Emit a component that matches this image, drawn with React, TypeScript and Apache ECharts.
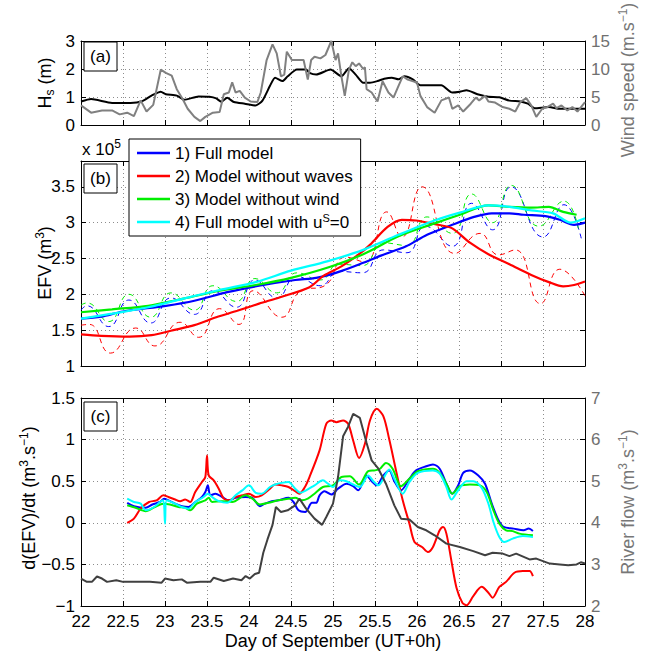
import React, { useEffect, useRef } from 'react';
import * as echarts from 'echarts';

const FONT = '"Liberation Sans", Arial, Helvetica, sans-serif';

// ---------- Panel (a) ----------
const hsData: [number, number][] = [
  [22.0, 0.84], [22.12, 0.93], [22.37, 0.79], [22.59, 0.79], [22.72, 0.84], [22.84, 1.05], [22.95, 1.19],
  [23.01, 1.1], [23.14, 1.05], [23.23, 0.9], [23.4, 1.02], [23.53, 1.01], [23.61, 0.95], [23.67, 0.83],
  [23.74, 0.97], [23.82, 0.82], [23.95, 0.76], [24.08, 0.7], [24.16, 0.87], [24.25, 1.4], [24.31, 1.69],
  [24.4, 1.57], [24.46, 1.74], [24.57, 1.98], [24.68, 1.98], [24.72, 1.86], [24.8, 1.8], [24.97, 1.98],
  [25.1, 1.74], [25.19, 2.03], [25.27, 1.8], [25.36, 1.51], [25.44, 1.51], [25.53, 1.57], [25.61, 1.65],
  [25.7, 1.69], [25.78, 1.63], [25.85, 1.74], [25.95, 1.63], [26.04, 1.42], [26.17, 1.42], [26.29, 1.42],
  [26.42, 1.16], [26.51, 1.19], [26.59, 1.24], [26.72, 1.1], [26.85, 1.01], [26.98, 0.99], [27.1, 0.87],
  [27.23, 0.84], [27.32, 0.76], [27.4, 0.6], [27.57, 0.64], [27.7, 0.58], [27.87, 0.58], [28.0, 0.58],
];
const windData: [number, number][] = [
  [22.0, 3.5], [22.12, 2.2], [22.25, 2.6], [22.37, 2.6], [22.46, 1.9], [22.55, 2.2], [22.63, 1.6], [22.71, 4.4],
  [22.78, 2.4], [22.86, 3.6], [22.95, 9.9], [23.01, 9.3], [23.08, 8.8], [23.14, 6.4], [23.21, 4.65], [23.27, 2.9],
  [23.35, 1.45], [23.42, 0.7], [23.48, 1.45], [23.57, 2.2], [23.65, 2.3], [23.7, 5.5], [23.76, 5.8], [23.8, 7.6],
  [23.84, 5.8], [23.89, 6.1], [23.95, 4.9], [24.02, 4.2], [24.1, 4.1], [24.14, 5.8], [24.21, 11.6], [24.28, 14.4],
  [24.33, 12.8], [24.38, 8.7], [24.42, 9.0], [24.45, 13.1], [24.51, 11.6], [24.57, 11.6], [24.65, 11.6],
  [24.7, 8.1], [24.74, 11.6], [24.78, 12.2], [24.85, 11.9], [24.91, 12.5], [24.98, 15.0], [25.03, 11.6],
  [25.06, 12.8], [25.1, 8.7], [25.14, 5.2], [25.19, 9.9], [25.23, 11.2], [25.27, 10.5], [25.31, 11.0],
  [25.36, 10.0], [25.38, 10.3], [25.4, 6.4], [25.46, 5.8], [25.53, 4.2], [25.59, 7.8], [25.66, 5.8],
  [25.72, 4.9], [25.78, 7.0], [25.83, 8.7], [25.89, 8.1], [26.0, 7.6], [26.04, 5.2], [26.12, 3.2], [26.21, 2.2],
  [26.29, 4.4], [26.38, 4.9], [26.42, 2.9], [26.49, 3.5], [26.55, 2.4], [26.64, 3.8], [26.7, 4.9], [26.74, 4.4],
  [26.81, 5.2], [26.85, 4.2], [26.93, 4.0], [27.02, 3.2], [27.1, 2.9], [27.17, 2.4], [27.23, 4.1], [27.3, 4.8],
  [27.36, 3.5], [27.42, 1.45], [27.49, 2.9], [27.55, 3.2], [27.62, 3.8], [27.66, 3.0], [27.72, 3.5],
  [27.79, 2.6], [27.85, 3.2], [27.91, 2.4], [28.0, 4.1],
];

// ---------- Panel (b): EFV (x 1e5 m3) ----------
const efvFull: [number, number][] = [
  [22.0, 1.66], [22.24, 1.69], [22.5, 1.76], [23.01, 1.84], [23.35, 1.91], [23.74, 2.03], [24.12, 2.12],
  [24.55, 2.2], [24.8, 2.23], [25.06, 2.31], [25.36, 2.44], [25.57, 2.54], [25.87, 2.67], [26.12, 2.83],
  [26.42, 2.97], [26.68, 3.08], [26.89, 3.13], [27.1, 3.13], [27.27, 3.11], [27.53, 3.09], [27.7, 3.04],
  [27.87, 2.97], [28.0, 3.0],
];
const efvNoWaves: [number, number][] = [
  [22.0, 1.44], [22.24, 1.42], [22.58, 1.41], [22.84, 1.43], [23.1, 1.5], [23.35, 1.57], [23.61, 1.68],
  [23.86, 1.77], [24.12, 1.87], [24.37, 1.96], [24.72, 2.1], [24.89, 2.26], [25.1, 2.39], [25.31, 2.56],
  [25.44, 2.69], [25.65, 2.94], [25.82, 3.04], [25.99, 3.03], [26.25, 2.97], [26.42, 2.92], [26.63, 2.72],
  [26.85, 2.56], [27.1, 2.42], [27.36, 2.27], [27.57, 2.17], [27.74, 2.11], [27.87, 2.13], [28.0, 2.18],
];
const efvNoWind: [number, number][] = [
  [22.0, 1.75], [22.37, 1.79], [22.8, 1.84], [23.22, 1.94], [23.65, 2.05], [24.08, 2.13], [24.5, 2.23],
  [24.93, 2.37], [25.36, 2.56], [25.78, 2.81], [26.21, 2.99], [26.51, 3.11], [26.85, 3.24], [27.1, 3.22],
  [27.36, 3.21], [27.57, 3.22], [27.74, 3.15], [27.9, 3.11],
];
const efvNoStokes: [number, number][] = [
  [22.0, 1.66], [22.37, 1.73], [22.8, 1.82], [23.22, 1.94], [23.65, 2.06], [24.08, 2.17], [24.5, 2.33],
  [24.93, 2.46], [25.36, 2.62], [25.78, 2.83], [26.21, 3.03], [26.51, 3.14], [26.85, 3.24], [27.1, 3.22],
  [27.36, 3.17], [27.62, 3.13], [27.83, 3.0], [28.0, 3.06],
];
const efvFullRaw: [number, number][] = [
  [22.0, 1.78], [22.07, 1.84], [22.33, 1.55], [22.57, 1.92], [22.83, 1.6], [23.07, 1.95], [23.35, 1.72],
  [23.57, 2.05], [23.85, 1.82], [24.07, 2.2], [24.33, 1.95], [24.57, 2.25], [24.85, 2.12], [25.07, 2.32],
  [25.35, 2.3], [25.6, 2.62], [25.88, 2.58], [26.1, 2.95], [26.42, 2.67], [26.65, 3.27], [26.9, 2.9],
  [27.12, 3.5], [27.5, 2.8], [27.75, 3.25], [27.96, 2.76],
];
const efvNoWavesRaw: [number, number][] = [
  [22.0, 1.57], [22.1, 1.58], [22.35, 1.18], [22.65, 1.53], [22.88, 1.28], [23.18, 1.61], [23.4, 1.4],
  [23.65, 1.8], [23.88, 1.58], [24.05, 2.05], [24.39, 1.68], [24.62, 2.05], [24.9, 2.12], [25.15, 2.52],
  [25.38, 2.45], [25.64, 3.15], [25.82, 2.8], [26.06, 3.5], [26.45, 2.57], [26.75, 2.85], [26.97, 2.55],
  [27.17, 2.62], [27.47, 1.87], [27.7, 2.35], [28.0, 1.98],
];
const efvNoWindRaw: [number, number][] = [
  [22.0, 1.85], [22.07, 1.88], [22.33, 1.62], [22.57, 2.0], [22.83, 1.68], [23.07, 2.02], [23.35, 1.78],
  [23.57, 2.12], [23.85, 1.9], [24.07, 2.22], [24.33, 2.02], [24.57, 2.3], [24.85, 2.2], [25.07, 2.42],
  [25.35, 2.4], [25.6, 2.72], [25.88, 2.68], [26.12, 3.08], [26.42, 2.85], [26.65, 3.4], [26.9, 3.0],
  [27.12, 3.52], [27.45, 2.95], [27.75, 3.3], [27.92, 2.92],
];

// ---------- Panel (c): d(EFV)/dt and river flow ----------
const dFull: [number, number][] = [
  [22.55, 0.24], [22.63, 0.2], [22.77, 0.18], [22.85, 0.22], [22.94, 0.25], [22.99, 0.29], [23.04, 0.27],
  [23.12, 0.23], [23.2, 0.2], [23.28, 0.19], [23.36, 0.25], [23.44, 0.31], [23.48, 0.37], [23.51, 0.45],
  [23.54, 0.33], [23.6, 0.35], [23.68, 0.31], [23.76, 0.27], [23.84, 0.3], [23.96, 0.31], [24.04, 0.3],
  [24.13, 0.2], [24.19, 0.23], [24.27, 0.26], [24.35, 0.27], [24.47, 0.3], [24.53, 0.25], [24.59, 0.15],
  [24.67, 0.13], [24.75, 0.24], [24.8, 0.24], [24.84, 0.33], [24.9, 0.38], [24.98, 0.34], [25.06, 0.41],
  [25.16, 0.47], [25.24, 0.44], [25.3, 0.39], [25.4, 0.57], [25.46, 0.5], [25.52, 0.45], [25.6, 0.57],
  [25.67, 0.63], [25.73, 0.5], [25.81, 0.39], [25.91, 0.53], [25.99, 0.63], [26.11, 0.68], [26.19, 0.7],
  [26.27, 0.65], [26.35, 0.47], [26.42, 0.35], [26.49, 0.45], [26.55, 0.6], [26.63, 0.63], [26.73, 0.57],
  [26.81, 0.47], [26.89, 0.23], [26.97, 0.03], [27.03, -0.05], [27.15, -0.07], [27.27, -0.09],
  [27.33, -0.07], [27.38, -0.1],
];
const dNoWaves: [number, number][] = [
  [22.55, 0.0], [22.63, 0.05], [22.71, 0.17], [22.81, 0.25], [22.9, 0.27], [22.98, 0.33], [23.04, 0.31],
  [23.12, 0.28], [23.18, 0.26], [23.24, 0.28], [23.3, 0.25], [23.36, 0.37], [23.44, 0.49], [23.48, 0.55],
  [23.5, 0.81], [23.52, 0.57], [23.58, 0.51], [23.64, 0.41], [23.7, 0.29], [23.76, 0.27], [23.84, 0.31],
  [23.92, 0.33], [24.0, 0.35], [24.08, 0.31], [24.15, 0.33], [24.25, 0.41], [24.31, 0.46], [24.39, 0.45],
  [24.47, 0.43], [24.55, 0.38], [24.6, 0.35], [24.66, 0.42], [24.72, 0.55], [24.84, 0.87], [24.92, 1.19],
  [24.98, 1.23], [25.04, 1.21], [25.12, 1.23], [25.18, 1.19], [25.24, 0.99], [25.31, 0.78], [25.38, 0.95],
  [25.44, 1.23], [25.52, 1.37], [25.6, 1.28], [25.67, 1.0], [25.75, 0.63], [25.83, 0.27], [25.91, -0.01],
  [25.97, -0.23], [26.06, -0.29], [26.13, -0.35], [26.19, -0.29], [26.27, -0.09], [26.31, -0.05],
  [26.35, -0.13], [26.41, -0.46], [26.47, -0.78], [26.54, -0.96], [26.59, -0.99], [26.67, -0.88],
  [26.77, -0.77], [26.85, -0.84], [26.9, -0.9], [26.98, -0.77], [27.06, -0.71], [27.16, -0.6],
  [27.26, -0.58], [27.34, -0.58], [27.38, -0.64],
];
const dNoWind: [number, number][] = [
  [22.55, 0.21], [22.65, 0.18], [22.77, 0.14], [22.88, 0.19], [22.98, 0.23], [23.06, 0.22], [23.16, 0.19],
  [23.24, 0.18], [23.3, 0.15], [23.38, 0.23], [23.48, 0.27], [23.52, 0.3], [23.56, 0.25], [23.68, 0.26],
  [23.8, 0.25], [23.96, 0.33], [24.04, 0.29], [24.13, 0.22], [24.23, 0.24], [24.35, 0.27], [24.47, 0.29],
  [24.55, 0.3], [24.63, 0.27], [24.7, 0.29], [24.78, 0.35], [24.88, 0.43], [25.0, 0.45], [25.1, 0.55],
  [25.2, 0.56], [25.31, 0.46], [25.42, 0.62], [25.5, 0.63], [25.56, 0.65], [25.63, 0.72], [25.71, 0.65],
  [25.81, 0.44], [25.91, 0.53], [26.01, 0.62], [26.19, 0.65], [26.27, 0.6], [26.35, 0.47], [26.42, 0.35],
  [26.51, 0.44], [26.63, 0.46], [26.75, 0.45], [26.83, 0.37], [26.91, 0.15], [26.98, -0.01], [27.06, -0.09],
  [27.14, -0.1], [27.22, -0.13], [27.38, -0.15],
];
const dNoStokes: [number, number][] = [
  [22.55, 0.29], [22.63, 0.25], [22.71, 0.23], [22.77, 0.15], [22.87, 0.19], [22.94, 0.25], [22.98, 0.27],
  [23.0, -0.01], [23.02, 0.27], [23.12, 0.23], [23.2, 0.19], [23.28, 0.17], [23.36, 0.25], [23.46, 0.31],
  [23.51, 0.35], [23.56, 0.31], [23.64, 0.26], [23.74, 0.24], [23.84, 0.33], [23.92, 0.39], [24.0, 0.45],
  [24.08, 0.36], [24.15, 0.35], [24.25, 0.43], [24.31, 0.46], [24.39, 0.48], [24.47, 0.49], [24.55, 0.41],
  [24.61, 0.36], [24.68, 0.39], [24.78, 0.45], [24.88, 0.51], [24.94, 0.47], [25.0, 0.43], [25.08, 0.51],
  [25.16, 0.5], [25.24, 0.46], [25.32, 0.43], [25.42, 0.57], [25.48, 0.5], [25.54, 0.45], [25.62, 0.57],
  [25.67, 0.64], [25.73, 0.53], [25.83, 0.35], [25.91, 0.49], [26.01, 0.6], [26.19, 0.63], [26.27, 0.59],
  [26.35, 0.43], [26.41, 0.28], [26.49, 0.39], [26.59, 0.5], [26.67, 0.5], [26.77, 0.42], [26.85, 0.23],
  [26.91, 0.01], [26.98, -0.17], [27.04, -0.23], [27.14, -0.19], [27.26, -0.16], [27.38, -0.17],
];
const riverFlow: [number, number][] = [
  [22.0, 2.66], [22.07, 2.58], [22.13, 2.58], [22.19, 2.71], [22.25, 2.66], [22.31, 2.58], [22.42, 2.62],
  [22.5, 2.58], [22.62, 2.58], [22.82, 2.58], [22.96, 2.56], [23.0, 2.66], [23.1, 2.62], [23.2, 2.64],
  [23.26, 2.56], [23.42, 2.58], [23.54, 2.58], [23.58, 2.68], [23.7, 2.6], [23.81, 2.66], [23.91, 2.62],
  [23.96, 2.72], [24.01, 2.66], [24.07, 2.77], [24.12, 2.8], [24.17, 3.28], [24.22, 3.6], [24.28, 3.95],
  [24.32, 4.38], [24.38, 4.26], [24.46, 4.3], [24.55, 4.42], [24.6, 4.58], [24.68, 4.34], [24.78, 4.1],
  [24.87, 3.95], [24.92, 4.14], [25.0, 4.46], [25.06, 5.1], [25.12, 6.08], [25.18, 6.31], [25.24, 6.62],
  [25.32, 6.52], [25.4, 5.92], [25.46, 5.5], [25.54, 5.3], [25.63, 4.94], [25.73, 4.42], [25.81, 4.1],
  [25.91, 4.08], [26.01, 3.9], [26.11, 3.82], [26.21, 3.7], [26.35, 3.5], [26.51, 3.42], [26.67, 3.32],
  [26.81, 3.22], [26.9, 3.28], [27.02, 3.26], [27.1, 3.2], [27.18, 3.26], [27.34, 3.12], [27.42, 3.14],
  [27.5, 3.08], [27.58, 3.02], [27.7, 3.0], [27.8, 2.98], [27.9, 3.0], [27.95, 3.05], [28.0, 3.02],
];

const legendNames = ['1) Full model', '2) Model without waves', '3) Model without wind', '4) Full model with uS=0'];
const modelColors = ['#0000ff', '#ff0000', '#00ee00', '#00ffff'];
const RIGHT_GREY = '#707070';
const TITLE_SIZE = 18;

const minus = (v: number) => String(v).replace('-', '\u2212');

function xAxes(gridIndex: number, labels: boolean) {
  const common = {
    type: 'value', gridIndex, min: 22, max: 28, interval: 0.5,
    axisLine: { show: true, onZero: false, lineStyle: { color: '#000', width: 1 } },
    axisTick: { show: true, inside: true, length: 5, lineStyle: { color: '#000' } },
  };
  return [
    {
      ...common, position: 'bottom',
      axisLabel: { show: labels, fontSize: 17, color: '#000', fontFamily: FONT, margin: 7 },
      splitLine: { show: true, lineStyle: { color: '#8c8c8c', type: [1, 3], width: 1 } },
    },
    { ...common, position: 'top', axisLabel: { show: false }, splitLine: { show: false } },
  ];
}

function yAxis(gridIndex: number, pos: 'left' | 'right', min: number, max: number, interval: number,
  opts: { labels?: boolean; color?: string; split?: boolean; fmt?: (v: number) => string } = {}) {
  return {
    type: 'value', gridIndex, position: pos, min, max, interval,
    axisLine: { show: true, onZero: false, lineStyle: { color: '#000', width: 1 } },
    axisTick: { show: true, inside: true, length: 5, lineStyle: { color: '#000' } },
    axisLabel: {
      show: opts.labels !== false, fontSize: 17, color: opts.color || '#000', fontFamily: FONT, margin: 6,
      formatter: opts.fmt || ((v: number) => minus(v)),
    },
    splitLine: { show: !!opts.split, lineStyle: { color: '#8c8c8c', type: [1, 3], width: 1 } },
  };
}

function line(name: string, data: [number, number][], xi: number, yi: number, color: string,
  width: number, extra: any = {}) {
  return {
    type: 'line', name, data, xAxisIndex: xi, yAxisIndex: yi, showSymbol: false, symbol: 'none',
    lineStyle: { color, width }, itemStyle: { color }, silent: true, ...extra,
  };
}

const supRich = {
  n: { fontSize: TITLE_SIZE, fontFamily: FONT, lineHeight: 22 },
  sup: { fontSize: 12, fontFamily: FONT, verticalAlign: 'top', lineHeight: 14 },
  sub: { fontSize: 12, fontFamily: FONT, verticalAlign: 'bottom', lineHeight: 14 },
};

function title(x: number, y: number, text: string, color = '#000', rotate = true) {
  return {
    type: 'text', x, y, rotation: rotate ? Math.PI / 2 : 0, z: 200,
    style: {
      text, fill: color, align: 'center', verticalAlign: 'middle', fontSize: TITLE_SIZE, fontFamily: FONT,
      rich: {
        n: { ...supRich.n, fill: color }, sup: { ...supRich.sup, fill: color }, sub: { ...supRich.sub, fill: color },
      },
    },
  };
}

function panelLabel(y: number, label: string) {
  return [
    { type: 'rect', shape: { x: 84, y, width: 33, height: 29 }, style: { fill: '#fff', stroke: '#000', lineWidth: 1 }, z: 150 },
    {
      type: 'text', x: 100.5, y: y + 14.5, z: 151,
      style: { text: label, fill: '#000', align: 'center', verticalAlign: 'middle', fontSize: 17, fontFamily: FONT },
    },
  ];
}

export default function App() {
  const ref = useRef<HTMLDivElement>(null);
  useEffect(() => {
    const chart = echarts.init(ref.current!, null, { renderer: 'svg' });
    const option: any = {
      animation: false,
      backgroundColor: '#fff',
      grid: [
        { left: 81, right: 64, top: 41, height: 84 },
        { left: 81, right: 64, top: 161, height: 205 },
        { left: 81, right: 64, top: 398, height: 208 },
      ],
      xAxis: [...xAxes(0, false), ...xAxes(1, false), ...xAxes(2, true)],
      yAxis: [
        yAxis(0, 'left', 0, 3, 1, { split: true }),
        yAxis(0, 'right', 0, 15, 5, { color: RIGHT_GREY }),
        yAxis(1, 'left', 1, 3.86, 0.5, {
          split: true,
          fmt: (v: number) => (Math.abs(v * 2 - Math.round(v * 2)) < 1e-6 ? String(v) : ''),
        }),
        yAxis(1, 'right', 1, 3.86, 0.5, { labels: false }),
        yAxis(2, 'left', -1, 1.5, 0.5, { split: true }),
        yAxis(2, 'right', 2, 7, 1, { color: RIGHT_GREY }),
      ],
      legend: {
        data: legendNames, orient: 'vertical', left: 129, top: 139, padding: [4, 8, 4, 8],
        itemGap: 3, itemWidth: 33, itemHeight: 2.5, icon: 'rect', selectedMode: false,
        backgroundColor: '#fff', borderColor: '#000', borderWidth: 1, borderRadius: 0, z: 100,
        textStyle: {
          fontSize: 17, fontFamily: FONT, color: '#000', lineHeight: 20,
          rich: { sup: { fontSize: 11, fontFamily: FONT, verticalAlign: 'top', lineHeight: 12, color: '#000' } },
        },
        formatter: (name: string) => (name === legendNames[3] ? '4) Full model with u{sup|S}=0' : name),
      },
      series: [
        line('Hs', hsData, 0, 0, '#000', 2, { smooth: 0.2, z: 3 }),
        line('Wind', windData, 1, 1, '#808080', 2, { z: 4 }),

        line('raw1', efvFullRaw, 2, 2, modelColors[0], 1, { smooth: 0.5, lineStyle: { color: modelColors[0], width: 1, type: [5, 4] } }),
        line('raw2', efvNoWavesRaw, 2, 2, modelColors[1], 1, { smooth: 0.5, lineStyle: { color: modelColors[1], width: 1, type: [5, 4] } }),
        line('raw3', efvNoWindRaw, 2, 2, modelColors[2], 1, { smooth: 0.5, lineStyle: { color: modelColors[2], width: 1, type: [5, 4] } }),
        line(legendNames[0], efvFull, 2, 2, modelColors[0], 2.2, { smooth: 0.3 }),
        line(legendNames[1], efvNoWaves, 2, 2, modelColors[1], 2.2, { smooth: 0.3 }),
        line(legendNames[2], efvNoWind, 2, 2, modelColors[2], 2.2, { smooth: 0.3 }),
        line(legendNames[3], efvNoStokes, 2, 2, modelColors[3], 2.2, { smooth: 0.3 }),

        line('c1', dFull, 4, 4, modelColors[0], 2, { smooth: 0.3 }),
        line('c2', dNoWaves, 4, 4, modelColors[1], 2, { smooth: 0.3 }),
        line('c3', dNoWind, 4, 4, modelColors[2], 2, { smooth: 0.3 }),
        line('c4', dNoStokes, 4, 4, modelColors[3], 2, { smooth: 0.3 }),
        line('River', riverFlow, 5, 5, '#404040', 2, { z: 4 }),
      ],
      graphic: [
        ...panelLabel(42, '(a)'),
        ...panelLabel(164, '(b)'),
        ...panelLabel(402, '(c)'),
        title(45, 83, '{n|H}{sub|s}{n| (m)}'),
        title(628, 80, '{n|Wind speed (m.s}{sup|\u22121}{n|)}', '#777'),
        title(45, 263, '{n|EFV (m}{sup|3}{n|)}'),
        title(29, 498, '{n|d(EFV)/dt (m}{sup|3}{n|.s}{sup|\u22121}{n|)}'),
        title(628, 502, '{n|River flow (m}{sup|3}{n|.s}{sup|\u22121}{n|)}', '#777'),
        {
          type: 'text', x: 82, y: 149, z: 200,
          style: {
            text: '{n|x 10}{sup|5}', align: 'left', verticalAlign: 'middle', fill: '#000',
            rich: { n: { ...supRich.n, fontSize: 17, fill: '#000' }, sup: { ...supRich.sup, fill: '#000' } },
          },
        },
        {
          type: 'text', x: 333, y: 641, z: 200,
          style: { text: 'Day of September (UT+0h)', align: 'center', verticalAlign: 'middle', fontSize: TITLE_SIZE, fontFamily: FONT, fill: '#000' },
        },
      ],
    };
    chart.setOption(option);
    return () => chart.dispose();
  }, []);
  return <div ref={ref} style={{ position: 'fixed', left: 0, top: 0, width: 649, height: 655, background: '#fff' }} />;
}
